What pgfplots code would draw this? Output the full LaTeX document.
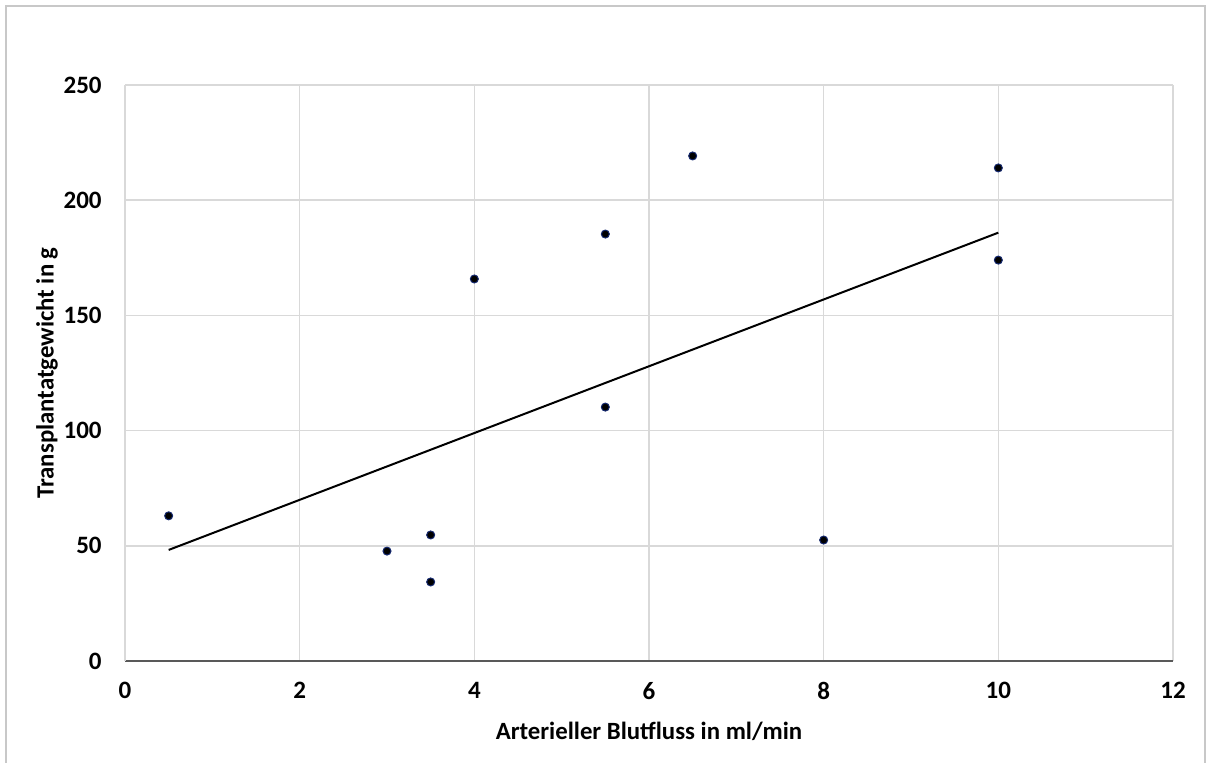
\documentclass[border=0pt]{standalone}
\usepackage{pgfplots}
\pgfplotsset{compat=1.18}
\usepackage{fontspec}
\setmainfont{Carlito}
\definecolor{gridgray}{RGB}{217,217,217}
\definecolor{axisgray}{RGB}{89,89,89}
\definecolor{framegray}{RGB}{200,200,200}
\definecolor{dotblue}{RGB}{20,40,110}
\begin{document}
\begin{tikzpicture}
\useasboundingbox (0,0) rectangle (603pt,381.5pt);
\draw[framegray, line width=0.7pt] (3pt,0) -- (3pt,378.5pt) -- (602.5pt,378.5pt) -- (602.5pt,0);
\begin{axis}[
  at={(62.5pt,51pt)}, anchor=south west,
  scale only axis, width=524pt, height=288pt,
  xmin=0, xmax=12, ymin=0, ymax=250,
  xtick={0,2,...,12}, ytick={0,50,...,250},
  grid=major,
  major grid style={gridgray, line width=0.75pt},
  major tick length=0pt,
  axis x line*=bottom, axis y line*=left,
  x axis line style={-, axisgray, line width=1pt},
  y axis line style={-, gridgray, line width=0.75pt},
  /pgf/number format/assume math mode=true,
  ticklabel style={font=\fontsize{12.5}{14}\selectfont\bfseries, text=black},
  yticklabel style={anchor=east, inner sep=0pt, xshift=-11.5pt},
  xticklabel style={anchor=north, inner sep=0pt, yshift=-10.5pt},
  xlabel={Arterieller Blutfluss in ml/min},
  ylabel={Transplantatgewicht in g},
  label style={font=\fontsize{12.4}{14}\selectfont\bfseries},
  xlabel style={at={(axis description cs:0.5,-0.1215)}, anchor=center},
  ylabel style={at={(axis description cs:-0.0744,0.5)}, anchor=center, rotate=0},
  clip=false,
]
\addplot[black, line width=1pt] coordinates {(0.5,48.2) (10,185.9)};
\addplot[only marks, mark=*, mark size=2pt, mark options={fill=black, draw=dotblue, line width=0.5pt}] coordinates {
(0.5,63) (3,47.7) (3.5,54.7) (3.5,34.3) (4,165.8) (5.5,185.3) (5.5,110.2) (6.5,219.2) (8,52.5) (10,214) (10,174)
};
\end{axis}
\end{tikzpicture}
\end{document}
